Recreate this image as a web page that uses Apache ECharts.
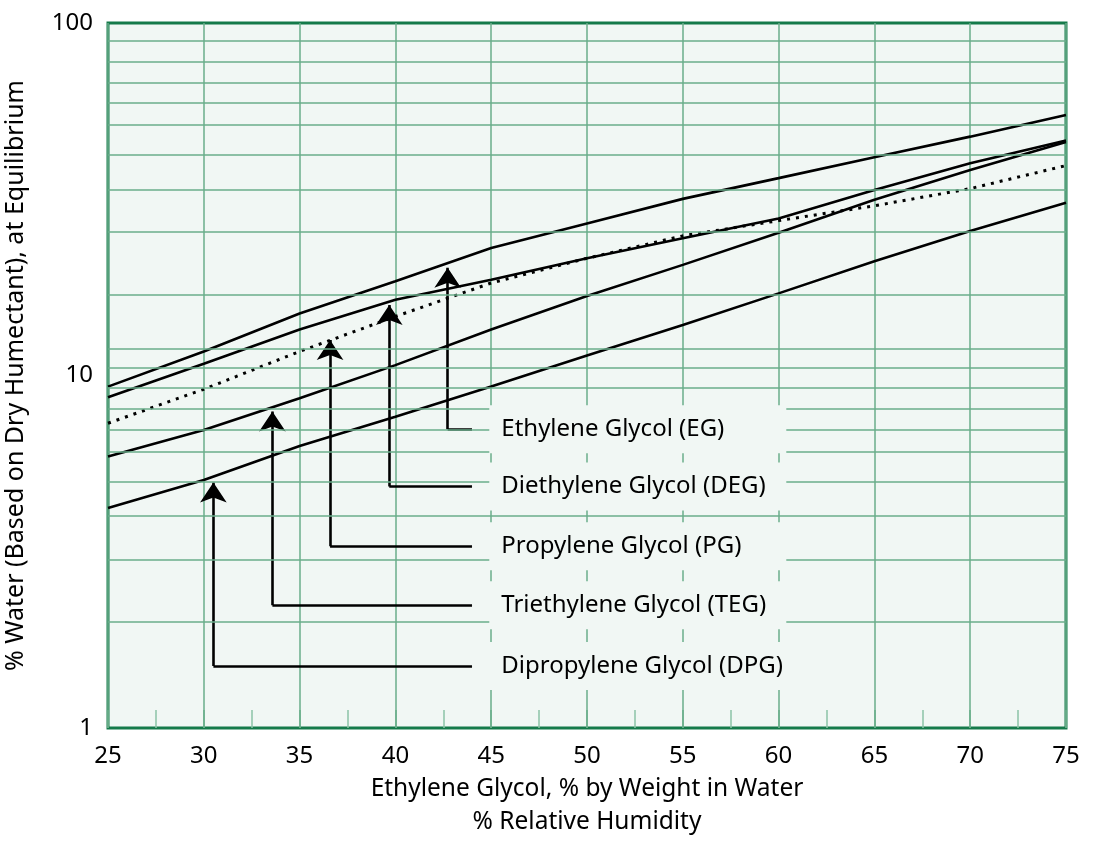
<!DOCTYPE html>
<html><head><meta charset="utf-8">
<script src="https://cdn.jsdelivr.net/npm/echarts@6/dist/echarts.min.js"></script>
<style>html,body{margin:0;padding:0;background:#fff}#c{width:1100px;height:841px}</style>
</head><body><div id="c"></div>
<script>
// ---- data ----
const xValues   = [25, 30, 35, 40, 45, 50, 55, 60, 65, 70, 75];
const egValues  = [9.3, 11.7, 15.0, 18.5, 23.0, 27.0, 31.7, 36.3, 41.6, 47.6, 54.8];
const degValues = [8.67, 10.8, 13.5, 16.4, 18.7, 21.5, 24.5, 27.9, 33.6, 40.0, 46.4];
const pgValues  = [7.32, 9.14, 11.7, 14.7, 18.3, 21.5, 24.9, 27.5, 30.3, 33.9, 39.4];
const tegValues = [5.89, 7.0, 8.62, 10.7, 13.5, 16.8, 20.6, 25.4, 31.5, 38.3, 46.0];
const dpgValues = [4.21, 5.05, 6.31, 7.64, 9.3, 11.4, 13.9, 17.1, 21.1, 25.7, 30.9];

const labelNames = ['Ethylene Glycol (EG)', 'Diethylene Glycol (DEG)', 'Propylene Glycol (PG)',
                    'Triethylene Glycol (TEG)', 'Dipropylene Glycol (DPG)'];
const arrowX     = [42.73, 39.68, 36.59, 33.58, 30.5];
const arrowTip   = [20.2, 15.85, 12.6, 7.9, 4.97];
const arrowElbow = [7.04, 4.84, 3.28, 2.23, 1.50];
const labelX     = 44;

const xMin = 25, xMax = 75, xStep = 5;
const yMin = 1, yMax = 100;
// horizontal grid lines of the reference (values on the log axis)
const hGridValues = [89.1, 77.7, 67.9, 59.4, 51.4, 42.4, 33.7, 25.5, 16.9, 11.9, 10.55,
                     9.23, 8.07, 7.0, 6.07, 4.99, 4.0, 3.0, 2.0];

const xTitle = 'Ethylene Glycol, % by Weight in Water\n% Relative Humidity';
const yTitle = '% Water (Based on Dry Humectant), at Equilibrium';

// ---- chart ----
const FONT = 'Noto Sans';
const GRID = '#6aae8b';
const BG = '#f1f7f4';
const pairs = v => xValues.map((x, i) => [x, v[i]]);
const curve = (name, vals, dotted) => ({
  type: 'line', name, data: pairs(vals), symbol: 'none', z: 2, silent: true,
  lineStyle: dotted ? {color: '#000', width: 3, type: [3, 6], cap: 'butt'} : {color: '#000', width: 2.6}
});

const chart = echarts.init(document.getElementById('c'), null, {renderer: 'canvas'});
chart.setOption({
  animation: false,
  backgroundColor: '#ffffff',
  textStyle: {fontFamily: FONT},
  grid: {left: 108, right: 34, top: 23, bottom: 113, show: true, containLabel: false,
         outerBoundsMode: 'none',
         backgroundColor: BG, borderColor: '#157a4a', borderWidth: 3},
  xAxis: {
    type: 'value', min: xMin, max: xMax, interval: xStep,
    name: xTitle, nameLocation: 'middle', nameGap: 45,
    nameTextStyle: {fontSize: 24.5, color: '#000', lineHeight: 33, fontFamily: FONT},
    axisLine: {show: false},
    axisTick: {show: true, inside: true, length: 18, lineStyle: {color: GRID, width: 1.5}},
    minorTick: {show: true, splitNumber: 2, length: 18, lineStyle: {color: '#8cc3a6', width: 1.5}},
    splitLine: {show: true, lineStyle: {color: GRID, width: 1.5}},
    axisLabel: {fontSize: 24, color: '#000', margin: 16, fontFamily: FONT}
  },
  yAxis: {
    type: 'log', logBase: 10, min: yMin, max: yMax,
    name: yTitle, nameLocation: 'middle', nameGap: 80, nameRotate: 90,
    nameTextStyle: {fontSize: 25, color: '#000', fontFamily: FONT},
    axisLine: {show: false}, axisTick: {show: false},
    splitLine: {show: false},
    axisLabel: {fontSize: 24, color: '#000', margin: 15, padding: [0, 0, 8, 0], fontFamily: FONT}
  },
  series: [
    {type: 'line', data: [], silent: true, z: 1,
     markLine: {silent: true, symbol: 'none', label: {show: false}, animation: false,
                lineStyle: {color: GRID, width: 1.5, type: 'solid'},
                data: hGridValues.map(v => ({yAxis: v}))}},
    curve('EG', egValues),
    curve('DEG', degValues),
    curve('PG', pgValues, true),
    curve('TEG', tegValues),
    curve('DPG', dpgValues),
    {type: 'lines', coordinateSystem: 'cartesian2d', z: 3, silent: true,
     symbol: ['none', 'none'],
     lineStyle: {color: '#000', width: 2.6, opacity: 1, curveness: 0},
     data: arrowX.map((ax, i) => ({coords: [[labelX, arrowElbow[i]], [ax, arrowElbow[i]]]}))},
    {type: 'lines', coordinateSystem: 'cartesian2d', z: 3, silent: true,
     symbol: ['none', 'arrow'], symbolSize: [1, 20],
     lineStyle: {color: '#000', width: 2.6, opacity: 1, curveness: 0},
     data: arrowX.map((ax, i) => ({coords: [[ax, arrowElbow[i]], [ax, arrowTip[i]]]}))},
    {type: 'scatter', z: 5, silent: true, symbolSize: 0.5,
     itemStyle: {color: BG, opacity: 1},
     label: {show: true, position: 'right', distance: 17, formatter: p => p.name,
             color: '#000', opacity: 1, fontSize: 24, fontFamily: FONT, lineHeight: 24,
             textBorderWidth: 0,
             backgroundColor: BG, width: 285, padding: [22, 0, 2, 12], align: 'left'},
     data: labelNames.map((n, i) => ({name: n, value: [labelX, arrowElbow[i]]}))}
  ]
});
</script></body></html>
